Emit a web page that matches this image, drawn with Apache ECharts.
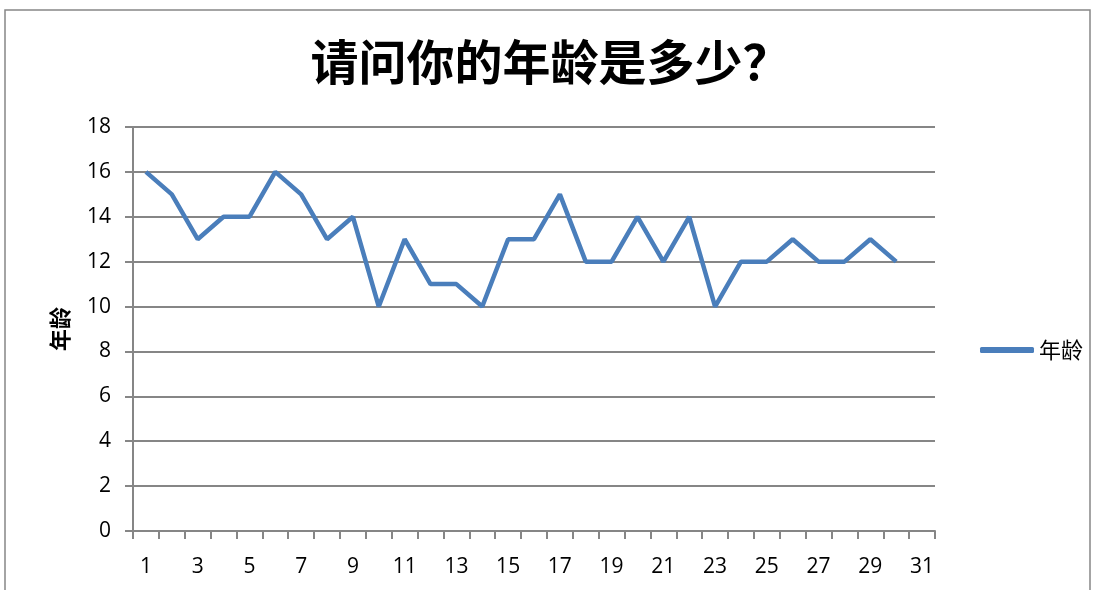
<!DOCTYPE html>
<html>
<head>
<meta charset="utf-8">
<script src="https://cdn.jsdelivr.net/npm/echarts@6/dist/echarts.min.js"></script>
<style>
html, body { margin: 0; padding: 0; background: #fff; }
#main { width: 1101px; height: 590px; }
</style>
</head>
<body>
<div id="main"></div>
<script>
// 问卷编号 1..31
var categories = [];
for (var i = 1; i <= 31; i++) categories.push(String(i));
var ages = [16, 15, 13, 14, 14, 16, 15, 13, 14, 10, 13, 11, 11, 10, 13, 13, 15, 12, 12, 14, 12, 14, 10, 12, 12, 13, 12, 12, 13, 12];
var yTicks = { min: 0, max: 18, interval: 2 };

var chart = echarts.init(document.getElementById('main'));
chart.setOption({
    animation: false,
    title: {
        text: '请问你的年龄是多少？',
        left: 'center',
        top: 33,
        textStyle: { fontFamily: 'Noto Sans CJK SC', fontSize: 48, fontWeight: 'bold', color: '#000' }
    },
    graphic: [
        // 图表外框
        { type: 'rect', shape: { x: 5, y: 10, width: 1085, height: 600 }, style: { fill: 'none', stroke: '#878787', lineWidth: 1.5 } }
    ],
    legend: {
        data: ['年龄'],
        orient: 'vertical',
        left: 975,
        top: 334,
        icon: 'roundRect',
        itemWidth: 54,
        itemHeight: 6,
        itemGap: 6,
        textStyle: { fontFamily: 'Noto Sans CJK SC', fontSize: 22, color: '#000' }
    },
    grid: { left: 133, right: 166, top: 127, bottom: 59, containLabel: false },
    xAxis: {
        type: 'category',
        data: categories,
        boundaryGap: true,
        axisLine: { lineStyle: { color: '#868686', width: 2 } },
        axisTick: { show: true, interval: 0, length: 8, lineStyle: { color: '#868686', width: 2 } },
        axisLabel: { interval: 1, margin: 26, fontFamily: 'Open Sans', fontSize: 21, color: '#000' }
    },
    yAxis: {
        type: 'value',
        min: yTicks.min,
        max: yTicks.max,
        interval: yTicks.interval,
        name: '年龄',
        nameLocation: 'middle',
        nameGap: 62,
        nameRotate: 90,
        nameTextStyle: { fontFamily: 'Noto Sans CJK SC', fontSize: 22, fontWeight: 'bold', color: '#000' },
        axisLine: { show: true, lineStyle: { color: '#868686', width: 2 } },
        axisTick: { show: true, length: 8, lineStyle: { color: '#868686', width: 2 } },
        axisLabel: { margin: 22, fontFamily: 'Open Sans', fontSize: 21, color: '#000' },
        splitLine: { lineStyle: { color: '#868686', width: 2 } }
    },
    series: [{
        name: '年龄',
        type: 'line',
        data: ages,
        symbol: 'none',
        lineStyle: { color: '#4a7ebb', width: 4.5 },
        itemStyle: { color: '#4a7ebb' }
    }]
});
</script>
</body>
</html>
